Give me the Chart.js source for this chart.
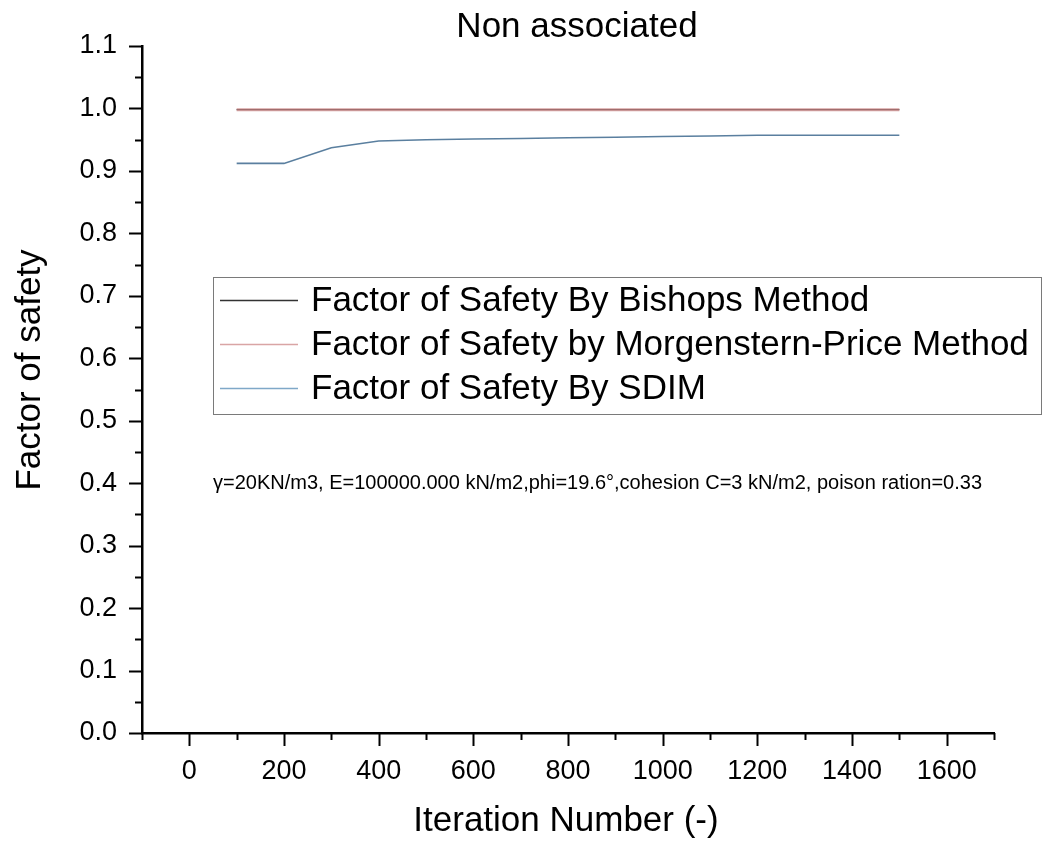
<!DOCTYPE html>
<html>
<head>
<meta charset="utf-8">
<style>
html,body{margin:0;padding:0;background:#fff;}
#wrap{width:1044px;height:842px;position:relative;}
</style>
<script src="https://cdn.jsdelivr.net/npm/chart.js@4.4.0/dist/chart.umd.min.js"></script>
</head>
<body>
<div id="wrap"><canvas id="c" width="1044" height="842"></canvas></div>
<script>
// ---- data ----
const iterations = [100,200,300,400,500,600,700,800,900,1000,1100,1200,1300,1400,1500];
const bishop     = [0.998,0.998,0.998,0.998,0.998,0.998,0.998,0.998,0.998,0.998,0.998,0.998,0.998,0.998,0.998];
const morgenstern= [0.998,0.998,0.998,0.998,0.998,0.998,0.998,0.998,0.998,0.998,0.998,0.998,0.998,0.998,0.998];
const sdim       = [0.912,0.912,0.937,0.948,0.950,0.951,0.952,0.953,0.954,0.955,0.956,0.957,0.957,0.957,0.957];
const xTickValues = [0,200,400,600,800,1000,1200,1400,1600];
const yTickValues = [0.0,0.1,0.2,0.3,0.4,0.5,0.6,0.7,0.8,0.9,1.0,1.1];
const seriesLabels = ['Factor of Safety By Bishops Method','Factor of Safety by Morgenstern-Price Method','Factor of Safety By SDIM'];
const titleText = 'Non associated';
const xTitle = 'Iteration Number (-)';
const yTitle = 'Factor of safety';
const noteText = 'γ=20KN/m3, E=100000.000 kN/m2,phi=19.6°,cohesion C=3 kN/m2, poison ration=0.33';

const FONT = '"Liberation Sans", Arial, sans-serif';

const pts = arr => iterations.map((x,i)=>({x:x,y:arr[i]}));

const decorPlugin = {
  id:'decor',
  afterDraw(chart){
    const ctx = chart.ctx;
    const xs = chart.scales.x, ys = chart.scales.y;
    const ca = chart.chartArea;
    ctx.save();
    ctx.strokeStyle = '#000';
    ctx.lineWidth = 2;
    // x ticks major/minor
    for(let v=-100; v<=1700; v+=100){
      const px = Math.round(xs.getPixelForValue(v))+0.5;
      const len = (v % 200 === 0) ? 13 : 7;
      ctx.beginPath(); ctx.moveTo(px, ca.bottom); ctx.lineTo(px, ca.bottom+len); ctx.stroke();
    }
    for(let k=0; k<=22; k++){
      const v = k*0.05;
      const py = Math.round(ys.getPixelForValue(v))+0.5;
      const len = (k % 2 === 0) ? 13 : 7;
      ctx.beginPath(); ctx.moveTo(ca.left, py); ctx.lineTo(ca.left-len, py); ctx.stroke();
    }
    ctx.fillStyle = '#000';
    ctx.textBaseline = 'middle';
    // title
    ctx.font = '35px ' + FONT;
    ctx.textAlign = 'center';
    ctx.fillText(titleText, 577, 27);
    // axis titles
    ctx.fillText(xTitle, 566, 821);
    ctx.save();
    ctx.translate(30, 370);
    ctx.rotate(-Math.PI/2);
    ctx.fillText(yTitle, 0, 0);
    ctx.restore();
    // note
    ctx.font = '20px ' + FONT;
    ctx.textAlign = 'left';
    ctx.fillText(noteText, 213, 483);
    // legend
    const bx = 213.5, by = 277.5, bw = 828, bh = 137;
    ctx.fillStyle = '#fff';
    ctx.fillRect(bx, by, bw, bh);
    ctx.strokeStyle = '#7a7a7a'; ctx.lineWidth = 1;
    ctx.strokeRect(bx, by, bw, bh);
    const rows = [300, 344, 388];
    chart.data.datasets.forEach((ds,i)=>{
      const y = rows[i];
      ctx.strokeStyle = ds.legendColor; ctx.lineWidth = 1.5;
      ctx.beginPath(); ctx.moveTo(220, y+0.5); ctx.lineTo(298, y+0.5); ctx.stroke();
      ctx.fillStyle = '#000';
      ctx.font = '35px ' + FONT;
      ctx.textAlign = 'left'; ctx.textBaseline = 'middle';
      ctx.fillText(ds.label, 311, y+1);
    });
    ctx.restore();
  }
};

new Chart(document.getElementById('c'), {
  type:'line',
  data:{
    datasets:[
      {label:seriesLabels[0], data:pts(bishop), borderColor:'#000000', legendColor:'#333333', borderWidth:1.2, pointRadius:0, tension:0, order:3},
      {label:seriesLabels[1], data:pts(morgenstern), borderColor:'rgba(205,140,140,0.78)', legendColor:'#d9a5a5', borderWidth:3, pointRadius:0, tension:0, order:2},
      {label:seriesLabels[2], data:pts(sdim), borderColor:'#5a7f9f', legendColor:'#7fa8c8', borderWidth:1.6, pointRadius:0, tension:0, order:1}
    ]
  },
  options:{
    responsive:false,
    animation:false,
    devicePixelRatio:1,
    layout:{padding:{top:46, right:50, left:0, bottom:0}},
    plugins:{legend:{display:false}, title:{display:false}, tooltip:{enabled:false}},
    scales:{
      x:{
        type:'linear', min:-100, max:1700,
        afterBuildTicks(s){ s.ticks = xTickValues.map(v=>({value:v})); },
        afterFit(s){ s.height = 109; },
        grid:{display:false, drawTicks:false},
        border:{display:true, color:'#000', width:2.5},
        ticks:{color:'#000', font:{family:FONT, size:27}, padding:22, maxRotation:0, autoSkip:false,
               callback:v=>String(v)},
        title:{display:false}
      },
      y:{
        type:'linear', min:0, max:1.1,
        afterBuildTicks(s){ s.ticks = yTickValues.map(v=>({value:v})); },
        afterFit(s){ s.width = 142; },
        grid:{display:false, drawTicks:false},
        border:{display:true, color:'#000', width:2.5},
        ticks:{color:'#000', font:{family:FONT, size:27}, padding:25, autoSkip:false,
               callback:v=>Number(v).toFixed(1)},
        title:{display:false}
      }
    }
  },
  plugins:[decorPlugin]
});
</script>
</body>
</html>
